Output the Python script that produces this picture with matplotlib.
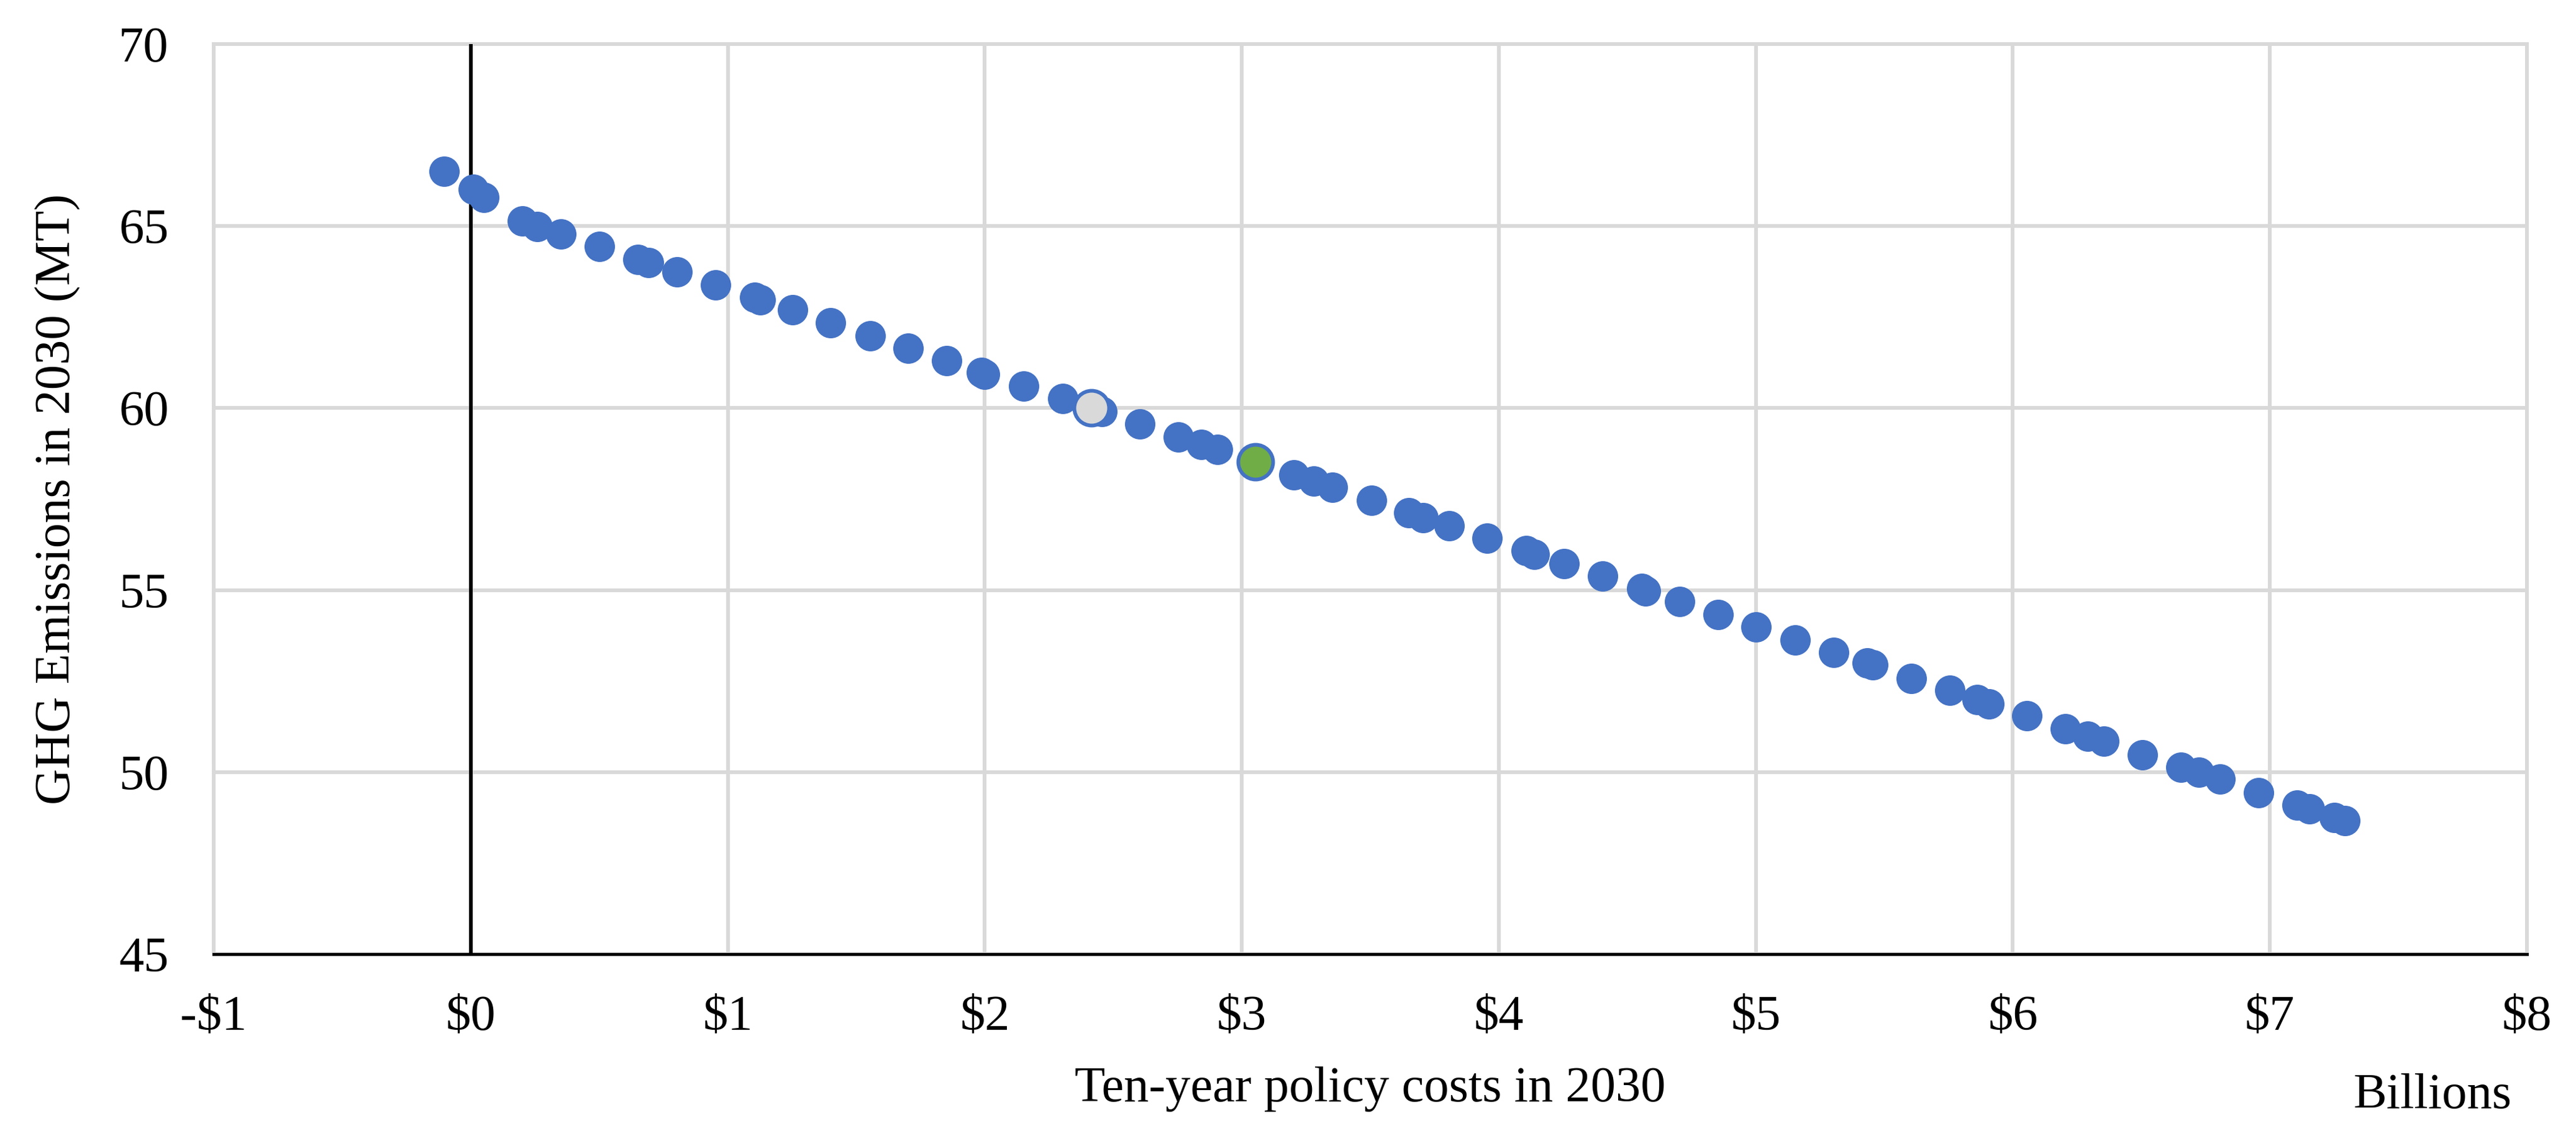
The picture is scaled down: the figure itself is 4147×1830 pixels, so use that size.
import matplotlib
matplotlib.use("Agg")
import matplotlib.pyplot as plt

plt.rcParams['font.family'] = ['Liberation Serif', 'DejaVu Serif']
plt.rcParams['text.parse_math'] = False

# ---- data (billions $, MT) ----
cost = [-0.104, 0.009, 0.052, 0.201, 0.260, 0.351, 0.501, 0.651, 0.691, 0.803,
        0.953, 1.104, 1.126, 1.253, 1.401, 1.554, 1.702, 1.852, 1.987, 2.000,
        2.152, 2.303, 2.456, 2.603, 2.753, 2.842, 2.905, 3.203, 3.279, 3.353,
        3.504, 3.650, 3.706, 3.806, 3.955, 4.106, 4.138, 4.254, 4.404, 4.555,
        4.571, 4.703, 4.853, 5.002, 5.153, 5.304, 5.434, 5.455, 5.606, 5.755,
        5.860, 5.908, 6.055, 6.204, 6.292, 6.355, 6.505, 6.654, 6.724, 6.807,
        6.956, 7.105, 7.153, 7.252, 7.293]
emis = [66.50, 66.01, 65.78, 65.14, 64.99, 64.79, 64.44, 64.08, 63.99, 63.74,
        63.38, 63.04, 62.97, 62.70, 62.34, 61.99, 61.64, 61.30, 60.98, 60.93,
        60.60, 60.26, 59.90, 59.56, 59.21, 59.00, 58.86, 58.17, 58.00, 57.82,
        57.47, 57.12, 56.98, 56.76, 56.42, 56.08, 55.99, 55.72, 55.38, 55.04,
        54.98, 54.69, 54.33, 53.99, 53.63, 53.28, 52.99, 52.94, 52.58, 52.24,
        52.00, 51.88, 51.54, 51.19, 50.98, 50.85, 50.48, 50.14, 49.99, 49.81,
        49.44, 49.10, 48.99, 48.76, 48.67]

gray_cost = [2.415]
gray_emis = [60.00]
green_cost = [3.054]
green_emis = [58.52]

x_ticks = [-1, 0, 1, 2, 3, 4, 5, 6, 7, 8]
x_tick_labels = ["-$1", "$0", "$1", "$2", "$3", "$4", "$5", "$6", "$7", "$8"]
y_ticks = [45, 50, 55, 60, 65, 70]
y_tick_labels = ["45", "50", "55", "60", "65", "70"]

# ---- figure ----
W, H = 4147, 1830
fig = plt.figure(figsize=(W / 100, H / 100), dpi=100)
left, right, top, bottom = 344, 4068, 71, 1537
ax = fig.add_axes([left / W, 1 - bottom / H, (right - left) / W, (bottom - top) / H])

blue = '#4472C4'
gridc = '#D9D9D9'
fs = 58

ax.set_xlim(-1, 8)
ax.set_ylim(45, 70)
ax.set_xticks(x_ticks)
ax.set_xticklabels(x_tick_labels)
ax.set_yticks(y_ticks)
ax.set_yticklabels(y_tick_labels)
ax.tick_params(axis='both', length=0, labelsize=fs, colors='black')
ax.tick_params(axis='y', pad=52)
ax.tick_params(axis='x', pad=48)

ax.grid(True, color=gridc, linewidth=4.3, zorder=0)
ax.set_axisbelow(True)
for s in ['left', 'right', 'top']:
    ax.spines[s].set_color(gridc)
    ax.spines[s].set_linewidth(4.3)
    ax.spines[s].set_zorder(0.5)
ax.spines['bottom'].set_color('black')
ax.spines['bottom'].set_linewidth(3.5)
ax.spines['bottom'].set_zorder(2)

ax.axvline(0, color='black', linewidth=4.3, zorder=1)

ax.scatter(cost, emis, s=1246, color=blue, linewidths=0, zorder=3)
ax.scatter(gray_cost, gray_emis, s=1625, facecolor=gridc, edgecolor=blue,
           linewidths=4.3, zorder=4)
ax.scatter(green_cost, green_emis, s=1625, facecolor='#70AD47', edgecolor=blue,
           linewidths=4.3, zorder=4)

ax.set_ylabel("GHG Emissions in 2030 (MT)", fontsize=fs)
ax.yaxis.set_label_coords(-0.0575, 0.5)
ax.set_xlabel("Ten-year policy costs in 2030", fontsize=fs, va='baseline')
ax.xaxis.set_label_coords(0.5, -(1774 - bottom) / (bottom - top))

fig.text(4044 / W, 1 - 1785 / H, "Billions", fontsize=fs, ha='right', va='baseline')

fig.savefig("out.png", dpi=100, facecolor='white')
